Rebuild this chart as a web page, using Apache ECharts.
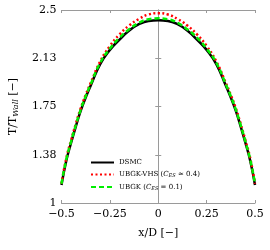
<!DOCTYPE html>
<html><head><meta charset="utf-8">
<script src="https://cdn.jsdelivr.net/npm/echarts@6/dist/echarts.min.js"></script>
<style>html,body{margin:0;padding:0;background:#fff}#c{width:270px;height:250px}</style>
</head><body><div id="c"></div>
<script>
const xPos = [-0.5,-0.475,-0.45,-0.425,-0.4,-0.375,-0.35,-0.3,-0.25,-0.2,-0.15,-0.1,-0.05,0,0.05,0.1,0.15,0.2,0.25,0.3,0.35,0.375,0.4,0.425,0.45,0.475,0.5];
const dsmc  = [1.14,1.33,1.47,1.60,1.72,1.82,1.91,2.08,2.19,2.27,2.34,2.39,2.415,2.42,2.415,2.39,2.34,2.27,2.19,2.08,1.91,1.82,1.72,1.60,1.47,1.33,1.14];
const vhs   = [1.15,1.35,1.49,1.62,1.74,1.84,1.93,2.10,2.22,2.31,2.38,2.43,2.465,2.475,2.465,2.43,2.38,2.31,2.22,2.10,1.93,1.84,1.74,1.62,1.49,1.35,1.15];
const ubgk  = [1.15,1.34,1.48,1.61,1.73,1.83,1.92,2.09,2.20,2.285,2.35,2.40,2.428,2.435,2.428,2.40,2.35,2.285,2.20,2.09,1.92,1.83,1.73,1.61,1.48,1.34,1.15];
const xTickLabels = ['\u22120.5','\u22120.25','0','0.25','0.5'];
const yTickLabels = ['1','1.38','1.75','2.13','2.5'];
const seriesNames = ['DSMC','UBGK-VHS','UBGK'];

const pairs = a => xPos.map((x,i)=>[x,a[i]]);
const font = 'DejaVu Serif';
const chart = echarts.init(document.getElementById('c'));
const xIdx = v => Math.round((v+0.5)/0.25);
const yIdx = v => Math.round((v-1)/0.375);
const frame = {show:true,lineStyle:{color:'#9a9a9a',width:1}};
const tick = {show:true,inside:true,length:3,lineStyle:{color:'#9a9a9a'}};
chart.setOption({
  animation:false,
  grid:{left:61,right:15,top:10,bottom:47},
  xAxis:[{type:'value',min:-0.5,max:0.5,interval:0.25,position:'bottom',
    axisLine:frame,axisTick:tick,splitLine:{show:false},
    axisLabel:{formatter:v=>xTickLabels[xIdx(v)],fontFamily:font,fontSize:11,color:'#000',margin:6},
    name:'x/D [\u2212]',nameLocation:'middle',nameGap:25,nameTextStyle:{fontFamily:font,fontSize:11,color:'#000'}},
   {type:'value',min:-0.5,max:0.5,interval:0.25,position:'top',
    axisLine:frame,axisTick:tick,axisLabel:{show:false},splitLine:{show:false}}],
  yAxis:[{type:'value',min:1,max:2.5,interval:0.375,position:'left',
    axisLine:frame,axisTick:tick,splitLine:{show:false},
    axisLabel:{formatter:v=>yTickLabels[yIdx(v)],fontFamily:font,fontSize:11,color:'#000',margin:5},
    name:'{a|T/T}{s|Wall}{a| [\u2212]}',nameLocation:'middle',nameGap:42,nameRotate:90,
    nameTextStyle:{rich:{a:{fontFamily:font,fontSize:11,color:'#000'},s:{fontFamily:font,fontSize:8,fontStyle:'italic',color:'#000',padding:[4,0,0,0]}}}},
   {type:'value',min:1,max:2.5,interval:0.375,position:'right',
    axisLine:frame,axisTick:tick,axisLabel:{show:false},splitLine:{show:false}}],
  legend:{left:85,top:154,orient:'vertical',itemWidth:23,itemHeight:8,itemGap:5,
    itemStyle:{opacity:0},
    data:seriesNames,
    formatter:n=>{
      if(n==='DSMC') return '{t|DSMC}';
      if(n==='UBGK-VHS') return '{t|UBGK-VHS (}{i|C}{s|ES}{t| \u2248 0.4)}';
      return '{t|UBGK (}{i|C}{s|ES}{t| = 0.1)}';
    },
    textStyle:{rich:{t:{fontFamily:font,fontSize:7,color:'#000'},i:{fontFamily:font,fontSize:7,fontStyle:'italic',color:'#000'},s:{fontFamily:font,fontSize:5,fontStyle:'italic',color:'#000',padding:[3,0,0,0]}}}},
  series:[
    {name:'DSMC',type:'line',data:pairs(dsmc),smooth:true,symbol:'none',lineStyle:{color:'#000',width:2.5,type:'solid'},itemStyle:{color:'#000'}},
    {name:'UBGK-VHS',type:'line',data:pairs(vhs),smooth:true,symbol:'none',lineStyle:{color:'#ff0000',width:2.5,type:[2,2.5]},itemStyle:{color:'#ff0000'}},
    {name:'UBGK',type:'line',data:pairs(ubgk),smooth:true,symbol:'none',lineStyle:{color:'#00ee00',width:2.5,type:[5,3]},itemStyle:{color:'#00ee00'}}
  ]
});
</script></body></html>
